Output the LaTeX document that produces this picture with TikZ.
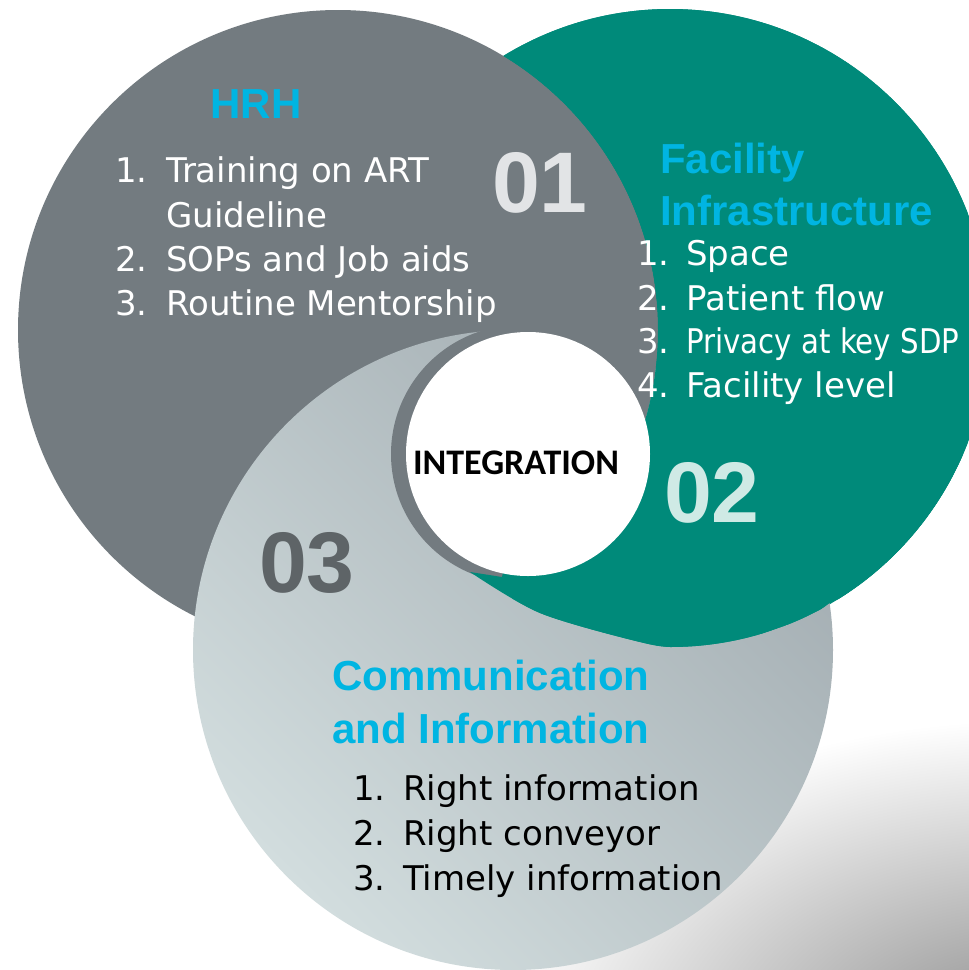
\documentclass[tikz,border=0pt]{standalone}
\usepackage{fontspec}
\newfontfamily\listfont{DejaVu Sans}
\newfontfamily\listnarrow[FakeStretch=0.86]{DejaVu Sans}
\newfontfamily\headfont{Liberation Sans}
\newfontfamily\intfont{Carlito}
\definecolor{hrhgray}{HTML}{737B80}
\definecolor{tealc}{HTML}{008A7A}
\definecolor{lightA}{HTML}{A2ACB1}
\definecolor{lightB}{HTML}{D2DDDE}
\definecolor{cyanhead}{HTML}{00B5E2}
\definecolor{numone}{HTML}{E2E4E6}
\definecolor{numtwo}{HTML}{CFEAE5}
\definecolor{numthree}{HTML}{5E6467}
\tikzset{
  listw/.style={anchor=base west, inner sep=0pt, text=white, font=\listfont\fontsize{34}{40}\selectfont},
  listb/.style={anchor=base west, inner sep=0pt, text=black, font=\listfont\fontsize{34}{40}\selectfont},
  head/.style={anchor=base west, inner sep=0pt, text=cyanhead, font=\headfont\bfseries\fontsize{42}{48}\selectfont},
  bignum/.style={anchor=base, inner sep=0pt, font=\headfont\bfseries\fontsize{86}{90}\selectfont},
}
\begin{document}
\begin{tikzpicture}[x=1pt,y=-1pt]
\clip (0,0) rectangle (969,970);
\fill[white] (0,0) rectangle (969,970);
% soft shadow bottom right
\shade[inner color=black!45, outer color=white] (1030,1040) ellipse [x radius=540, y radius=320];
% base circles
\fill[tealc] (670,328) circle [radius=319];
\fill[hrhgray] (338,330) circle [radius=320];
\shade[shading=axis, top color=lightA, bottom color=lightB, shading angle=-45] (513,650) circle [radius=320];
% gray over light in the upper right of the centre
\begin{scope}
  \clip (338,330) circle [radius=320];
  \fill[hrhgray] (473,300) -- (720,300) -- (720,454) -- (528,454) -- cycle;
\end{scope}
% shadow ring round the centre
\fill[hrhgray] (520,454) circle [radius=129];
% teal over light where gray is absent
\begin{scope}
  \clip (670,328) circle [radius=319];
  \clip (250,-100) -- (1100,-100) -- (1100,560) -- (833,600)
        -- plot[smooth] coordinates {(833,600) (807,617) (740,640) (680,647) (640,642) (540,613) (470,572)}
        -- (250,400) -- cycle;
  \fill[tealc, even odd rule] (0,0) rectangle (969,970) (338,330) circle [radius=320];
\end{scope}
% teal wedge below the centre
\begin{scope}
  \clip (670,328) circle [radius=319];
  \fill[tealc] (528,454) -- (502,577) -- (470,572)
        -- plot[smooth] coordinates {(470,572) (540,613) (640,642) (680,647) (740,640) (807,617) (833,600)}
        -- (1100,560) -- (1100,454) -- cycle;
\end{scope}
% centre
\fill[white] (528,454) circle [radius=122];
\node[anchor=base, inner sep=0pt, font=\intfont\bfseries\fontsize{36}{40}\selectfont] (integ) at (516,474) {INTEGRATION};
% HRH
\node[head, anchor=base] (hrh) at (256,118) {HRH};
\node[listw] (h1n) at (115,182) {1.};
\node[listw] (h1t) at (166,182) {Training on ART};
\node[listw] (h1u) at (166,227) {Guideline};
\node[listw] (h2n) at (115,271) {2.};
\node[listw] (h2t) at (166,271) {SOPs and Job aids};
\node[listw] (h3n) at (115,315) {3.};
\node[listw] (h3t) at (166,315) {Routine Mentorship};
\node[bignum, text=numone] (n01) at (540,212) {01};
% Facility
\node[head] (fac1) at (660,173) {Facility};
\node[head] (fac2) at (660,225) {Infrastructure};
\node[listw] (f1n) at (637,265) {1.};
\node[listw] (f1t) at (686,265) {Space};
\node[listw] (f2n) at (637,310) {2.};
\node[listw] (f2t) at (686,310) {Patient flow};
\node[listw] (f3n) at (637,353) {3.};
\node[listw, font=\listnarrow\fontsize{34}{40}\selectfont] (f3t) at (686,353) {Privacy at key SDP};
\node[listw] (f4n) at (637,397) {4.};
\node[listw] (f4t) at (686,397) {Facility level};
\node[bignum, text=numtwo] (n02) at (712,522) {02};
% Communication
\node[bignum, text=numthree] (n03) at (307,592) {03};
\node[head] (com1) at (332,690) {Communication};
\node[head] (com2) at (332,743) {and Information};
\node[listb] (c1n) at (353,800) {1.};
\node[listb] (c1t) at (403,800) {Right information};
\node[listb] (c2n) at (353,845) {2.};
\node[listb] (c2t) at (403,845) {Right conveyor};
\node[listb] (c3n) at (353,890) {3.};
\node[listb] (c3t) at (403,890) {Timely information};
\end{tikzpicture}
\end{document}
